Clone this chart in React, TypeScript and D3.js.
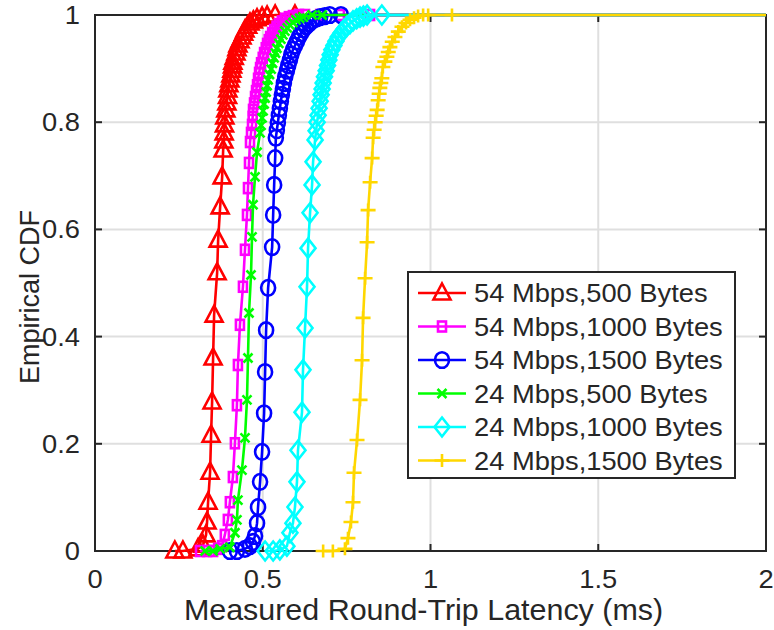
import React from "react";
import * as d3 from "d3";

// ---- data ----
const seriesNames = [
  "54 Mbps,500 Bytes",
  "54 Mbps,1000 Bytes",
  "54 Mbps,1500 Bytes",
  "24 Mbps,500 Bytes",
  "24 Mbps,1000 Bytes",
  "24 Mbps,1500 Bytes",
];

const redX = [0.238,0.262,0.307,0.322,0.331,0.334,0.337,0.343,0.346,0.349,0.352,0.355,0.364,0.367,0.373,0.379,
  0.382,0.384,0.385,0.386,0.387,0.390,0.393,0.395,0.396,0.399,0.402,0.405,0.408,0.410,0.411,0.415,0.420,0.423,0.426,0.432,0.438,0.443,0.447,0.455,0.462,0.472,0.483,0.498,0.513,0.537,0.596,2.5];
const redY = [0,0,0.004,0.011,0.030,0.054,0.091,0.147,0.216,0.278,0.360,0.440,0.519,0.580,0.642,0.698,
  0.748,0.765,0.780,0.795,0.810,0.823,0.836,0.848,0.860,0.870,0.879,0.888,0.897,0.905,0.912,0.921,0.929,0.937,0.944,0.952,0.959,0.966,0.972,0.979,0.985,0.989,0.993,0.996,0.998,1,1,1];

const magX = [0.313,0.334,0.352,0.367,0.379,0.387,0.396,0.402,0.411,0.417,0.423,0.426,0.432,0.441,0.447,0.453,0.456,0.459,
  0.462,0.465,0.468,0.470,0.471,0.474,0.477,0.480,0.483,0.486,0.489,0.492,0.495,0.500,0.504,0.509,0.513,0.518,0.522,0.528,0.534,0.541,0.548,0.557,0.566,0.578,0.590,0.608,0.626,0.671,0.730,0.820,2.5];
const magY = [0,0,0,0.004,0.009,0.030,0.058,0.091,0.138,0.201,0.272,0.347,0.422,0.493,0.562,0.627,0.677,0.724,
  0.763,0.780,0.795,0.810,0.823,0.835,0.847,0.858,0.869,0.881,0.892,0.901,0.910,0.920,0.929,0.938,0.946,0.953,0.959,0.966,0.972,0.978,0.983,0.988,0.993,0.996,0.998,1,1,1,1,1,1];

const blueX = [0.402,0.423,0.447,0.462,0.471,0.477,0.483,0.486,0.492,0.498,0.504,0.507,0.510,0.516,0.528,0.531,0.534,0.537,
  0.539,0.542,0.545,0.548,0.551,0.554,0.557,0.560,0.563,0.567,0.572,0.576,0.581,0.585,0.590,0.596,0.602,0.608,0.614,0.621,0.629,0.638,0.647,0.659,0.671,0.685,0.700,0.733,2.5];
const blueY = [0,0,0.004,0.009,0.017,0.028,0.052,0.082,0.129,0.185,0.257,0.334,0.412,0.491,0.567,0.627,0.683,0.733,
  0.771,0.785,0.799,0.813,0.826,0.839,0.851,0.862,0.873,0.885,0.896,0.906,0.916,0.926,0.935,0.943,0.951,0.959,0.966,0.973,0.979,0.984,0.989,0.993,0.996,0.998,1,1,1];

const greenX = [0.328,0.352,0.373,0.402,0.417,0.423,0.426,0.438,0.447,0.453,0.456,0.459,0.465,0.468,0.471,0.477,0.483,
  0.492,0.495,0.498,0.501,0.504,0.507,0.510,0.513,0.516,0.520,0.525,0.529,0.534,0.538,0.542,0.548,0.554,0.560,0.566,0.573,0.581,0.590,0.599,0.610,0.620,0.647,0.677,2.5];
const greenY = [0,0,0.004,0.007,0.034,0.058,0.095,0.151,0.211,0.282,0.360,0.444,0.515,0.586,0.646,0.698,0.744,
  0.780,0.794,0.808,0.821,0.834,0.845,0.856,0.868,0.879,0.889,0.899,0.910,0.920,0.929,0.938,0.947,0.955,0.963,0.970,0.976,0.981,0.986,0.991,0.994,0.996,1,1,1];

const cyanX = [0.507,0.531,0.551,0.572,0.581,0.590,0.596,0.602,0.605,0.617,0.620,0.626,0.632,0.635,0.641,0.647,0.650,
  0.656,0.659,0.662,0.665,0.668,0.671,0.674,0.677,0.680,0.684,0.689,0.693,0.697,0.701,0.706,0.712,0.718,0.725,0.733,0.742,0.751,0.760,0.769,0.780,0.790,0.800,0.811,0.855,2.5];
const cyanY = [0,0,0.002,0.009,0.034,0.052,0.082,0.129,0.188,0.259,0.338,0.416,0.493,0.565,0.631,0.683,0.726,
  0.767,0.784,0.800,0.813,0.826,0.839,0.851,0.862,0.873,0.885,0.896,0.906,0.916,0.926,0.935,0.943,0.951,0.959,0.966,0.973,0.979,0.984,0.989,0.993,0.996,0.998,1,1,1];

const yellowX = [0.680,0.709,0.745,0.754,0.763,0.769,0.772,0.781,0.790,0.796,0.799,0.805,0.811,0.814,0.820,0.826,
  0.829,0.832,0.835,0.838,0.841,0.844,0.847,0.849,0.852,0.855,0.858,0.864,0.870,0.874,0.879,0.886,0.894,0.904,0.915,0.927,0.939,0.951,0.963,0.978,0.993,1.064,2.5];
const yellowY = [0,0,0.004,0.024,0.054,0.091,0.146,0.207,0.282,0.356,0.435,0.509,0.576,0.636,0.688,0.733,
  0.771,0.786,0.800,0.812,0.823,0.841,0.853,0.864,0.873,0.882,0.903,0.913,0.922,0.931,0.940,0.950,0.959,0.969,0.978,0.985,0.991,0.995,0.998,1,1,1,1];

const xTicks = [0, 0.5, 1, 1.5, 2];
const xTickLabels = ["0", "0.5", "1", "1.5", "2"];
const yTicks = [0, 0.2, 0.4, 0.6, 0.8, 1];
const yTickLabels = ["0", "0.2", "0.4", "0.6", "0.8", "1"];

const colors = ["#ff0000", "#ff00ff", "#0000ff", "#00ff00", "#00ffff", "#ffd700"];
const markerTypes = ["triangle", "square", "circle", "x", "diamond", "plus"];

const allX = [redX, magX, blueX, greenX, cyanX, yellowX];
const allY = [redY, magY, blueY, greenY, cyanY, yellowY];

// ---- layout ----
const W = 774, H = 630;
const L = 95, R = 766, T = 15, B = 551;
const SX = 1.05;
const FONT = "'Liberation Sans', Arial, Helvetica, sans-serif";
const TXT = "#262626";

function Marker({ type, cx, cy, color }: { type: string; cx: number; cy: number; color: string }) {
  const sw = 2.6;
  const common = { fill: "none", stroke: color, strokeWidth: sw };
  switch (type) {
    case "triangle":
      return <path d={`M${cx},${cy - 9.5}L${cx + 8.5},${cy + 6.5}L${cx - 8.5},${cy + 6.5}Z`} {...common} />;
    case "square":
      return <rect x={cx - 4} y={cy - 5} width={8} height={10} {...common} />;
    case "circle":
      return <ellipse cx={cx} cy={cy} rx={7} ry={7.8} {...common} />;
    case "x":
      return <path d={`M${cx - 4.5},${cy - 4.5}L${cx + 4.5},${cy + 4.5}M${cx - 4.5},${cy + 4.5}L${cx + 4.5},${cy - 4.5}`} {...common} />;
    case "diamond":
      return <path d={`M${cx},${cy - 9.5}L${cx + 7.5},${cy}L${cx},${cy + 9.5}L${cx - 7.5},${cy}Z`} {...common} />;
    case "plus":
      return <path d={`M${cx - 7.5},${cy}L${cx + 7.5},${cy}M${cx},${cy - 6.5}L${cx},${cy + 6.5}`} {...common} />;
  }
  return null;
}

function SText({ x, y, anchor, size, children }: any) {
  return (
    <text
      transform={`translate(${x},${y}) scale(${SX},1)`}
      textAnchor={anchor}
      fontSize={size}
      fontFamily={FONT}
      fill={TXT}
    >
      {children}
    </text>
  );
}

export default function App() {
  const x = d3.scaleLinear().domain([0, 2]).range([L, R]);
  const y = d3.scaleLinear().domain([0, 1]).range([B, T]);
  const line = d3.line<[number, number]>().x((d) => x(d[0])).y((d) => y(d[1]));

  const legX = 408, legY = 272, legW = 327, legH = 206;
  const rowH = 33.5;

  return (
    <svg width={W} height={H} style={{ position: "absolute", left: 0, top: 0, background: "#fff" }}>
      <defs>
        <clipPath id="plotclip">
          <rect x={L} y={T - 2} width={R - L} height={B - T + 4} />
        </clipPath>
      </defs>
      <rect x={0} y={0} width={W} height={H} fill="#fff" />
      {/* grid */}
      {xTicks.slice(1, -1).map((t) => (
        <line key={"gx" + t} x1={x(t)} x2={x(t)} y1={T} y2={B} stroke="#dfdfdf" strokeWidth={2} />
      ))}
      {yTicks.slice(1, -1).map((t) => (
        <line key={"gy" + t} x1={L} x2={R} y1={y(t)} y2={y(t)} stroke="#dfdfdf" strokeWidth={2} />
      ))}
      {/* box + ticks */}
      <rect x={L} y={T} width={R - L} height={B - T} fill="none" stroke="#262626" strokeWidth={2} />
      {xTicks.map((t) => (
        <g key={"tx" + t}>
          <line x1={x(t)} x2={x(t)} y1={B} y2={B - 7} stroke="#262626" strokeWidth={2} />
          <line x1={x(t)} x2={x(t)} y1={T} y2={T + 7} stroke="#262626" strokeWidth={2} />
        </g>
      ))}
      {yTicks.map((t) => (
        <g key={"ty" + t}>
          <line x1={L} x2={L + 7} y1={y(t)} y2={y(t)} stroke="#262626" strokeWidth={2} />
          <line x1={R} x2={R - 7} y1={y(t)} y2={y(t)} stroke="#262626" strokeWidth={2} />
        </g>
      ))}
      {/* tick labels */}
      {xTicks.map((t, i) => (
        <SText key={"lx" + t} x={x(t)} y={588} anchor="middle" size={26}>
          {xTickLabels[i]}
        </SText>
      ))}
      {yTicks.map((t, i) => (
        <SText key={"ly" + t} x={80} y={y(t) + 9} anchor="end" size={26}>
          {yTickLabels[i]}
        </SText>
      ))}
      {/* axis labels */}
      <SText x={(L + R) / 2 - 7} y={620} anchor="middle" size={29}>
        Measured Round-Trip Latency (ms)
      </SText>
      <text
        transform={`translate(39,${(T + B) / 2 + 14}) rotate(-90) scale(1,${SX})`}
        textAnchor="middle"
        fontSize={27}
        fontFamily={FONT}
        fill={TXT}
      >
        Empirical CDF
      </text>
      {/* series */}
      {allX.map((xs, si) => {
        const pts = xs.map((v, i) => [v, allY[si][i]] as [number, number]);
        return (
          <g key={"s" + si}>
            <path d={line(pts) || ""} fill="none" stroke={colors[si]} strokeWidth={2.6} clipPath="url(#plotclip)" />
            {pts
              .filter((p) => p[0] <= 2)
              .map((p, i) => (
                <Marker key={i} type={markerTypes[si]} cx={x(p[0])} cy={y(p[1])} color={colors[si]} />
              ))}
          </g>
        );
      })}
      {/* legend */}
      <rect x={legX} y={legY} width={legW} height={legH} fill="#fff" stroke="#262626" strokeWidth={2} />
      {seriesNames.map((name, i) => {
        const cy = legY + 21 + i * rowH;
        return (
          <g key={"leg" + i}>
            <line x1={418} x2={466} y1={cy} y2={cy} stroke={colors[i]} strokeWidth={2.6} />
            <Marker type={markerTypes[i]} cx={442} cy={cy} color={colors[i]} />
            <SText x={474} y={cy + 9} anchor="start" size={26}>
              {name}
            </SText>
          </g>
        );
      })}
    </svg>
  );
}
